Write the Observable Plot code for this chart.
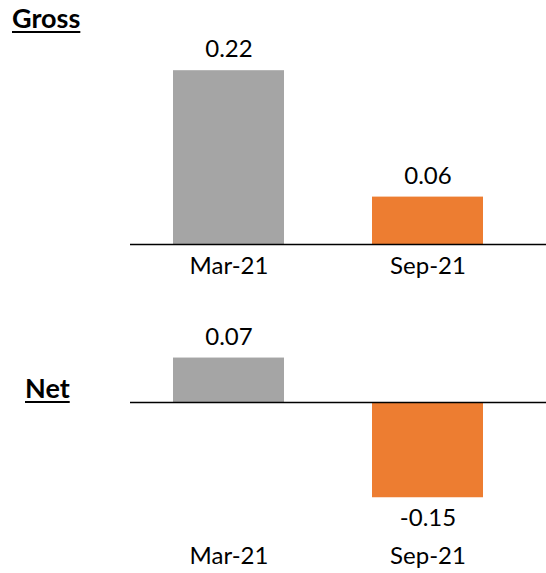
<!DOCTYPE html>
<html>
<head>
<meta charset="utf-8">
<script src="https://cdn.jsdelivr.net/npm/d3@7"></script>
<script src="https://cdn.jsdelivr.net/npm/@observablehq/plot@0.6"></script>
<style>
  html, body { margin: 0; padding: 0; background: #fff; }
  #wrap { position: relative; width: 546px; height: 573px; font-family: Lato, "Open Sans", sans-serif; }
  .panel { position: absolute; left: 0; }
  .title { position: absolute; font-weight: bold; font-size: 27px; text-decoration: underline; text-decoration-thickness: 2px; text-underline-offset: 3px; color: #000; }
</style>
</head>
<body>
<div id="wrap">
  <div class="panel" id="gross" style="top:0px"></div>
  <div class="panel" id="net" style="top:290px"></div>
  <div class="title" style="left:12px; top:1px">Gross</div>
  <div class="title" style="left:25px; top:371px">Net</div>
</div>
<script>
const periods = ["Mar-21", "Sep-21"];
const grossValues = [0.22, 0.06];
const netValues = [0.07, -0.15];
const colors = ["#A5A5A5", "#ED7D31"];

function panel(values, yDomain, yRange) {
  const data = periods.map((p, i) => ({period: p, value: values[i], color: colors[i]}));
  return Plot.plot({
    width: 546,
    height: 290,
    marginLeft: 130,
    marginRight: 0,
    marginTop: 0,
    marginBottom: 46,
    style: {fontFamily: "Lato, 'Open Sans', sans-serif", fontSize: "24px", color: "#000", background: "transparent"},
    x: {domain: periods, range: [129, 527], paddingInner: 0.442, paddingOuter: 0.221, align: 0.5, label: null},
    y: {domain: yDomain, range: yRange, axis: null},
    marks: [
      Plot.barY(data, {x: "period", y: "value", fill: "color"}),
      Plot.ruleY([0], {stroke: "#000", strokeWidth: 1.6}),
      Plot.text(data, {x: "period", y: "value", text: d => d.value.toFixed(2), fill: "#000", fontSize: 24,
        lineAnchor: "middle", filter: d => d.value >= 0, dy: -21}),
      Plot.text(data, {x: "period", y: "value", text: d => d.value.toFixed(2), fill: "#000", fontSize: 24,
        lineAnchor: "middle", filter: d => d.value < 0, dy: 21}),
      Plot.axisX({tickSize: 0, tickPadding: 12, label: null, fontSize: 24})
    ]
  });
}

document.getElementById("gross").appendChild(panel(grossValues, [0, 0.3], [244, 244 - 0.3 * 790]));
document.getElementById("net").appendChild(panel(netValues, [-0.2, 0.1], [112 + 0.2 * 635, 112 - 0.1 * 635]));
</script>
</body>
</html>
